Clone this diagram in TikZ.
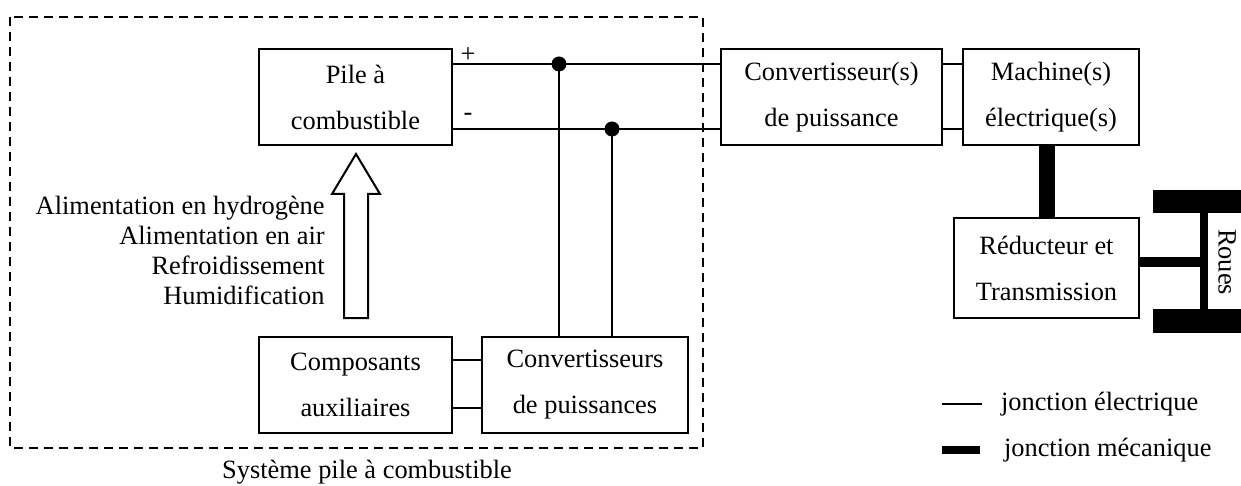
\documentclass[tikz,border=0pt]{standalone}
\usepackage{fontspec}
\setmainfont{Liberation Serif}
\usetikzlibrary{calc}

\tikzset{
  bloc/.style={draw, line width=1pt, inner sep=0pt, outer sep=0pt, align=center,
    minimum height=48pt, font=\fontsize{13.2}{23}\selectfont},
  elec/.style={line width=1pt},
  meca/.style={line width=8pt},
  jonc/.style={circle, fill, inner sep=0pt, minimum size=7.5pt},
  lbl/.style={inner sep=0pt, font=\fontsize{13.2}{15}\selectfont}
}

\begin{document}
\begin{tikzpicture}[x=0.5pt, y=-0.5pt]
  \useasboundingbox (0,0) rectangle (1241,486);
  % systeme pile a combustible
  \draw[line width=1pt, dash pattern=on 4.5pt off 3pt] (10,17) rectangle (703,448);
  \node[lbl] (systeme) at (367,472) {Système pile à combustible};

  \node[bloc, minimum width=96.5pt] (pile) at (355.5,97) {Pile à\\combustible};
  \node[bloc, minimum width=96.5pt] (compo) at (355.5,385) {Composants\\auxiliaires};
  \node[bloc, minimum width=103pt] (convA) at (585,385) {Convertisseurs\\de puissances};
  \node[bloc, minimum width=110.5pt] (convP) at (831.5,97) {Convertisseur(s)\\de puissance};
  \node[bloc, minimum width=88pt] (machine) at (1051,97) {Machine(s)\\électrique(s)};
  \node[bloc, minimum width=92.5pt, minimum height=50pt] (reduct) at (1046.5,268) {Réducteur et\\Transmission};

  \node[lbl] (plus) at (468,55) {+};
  \node[lbl] (moins) at (468,117) {-};
  \node[jonc] (dplus) at (559,64) {};
  \node[jonc] (dmoins) at (612,129) {};

  % jonctions electriques
  \draw[elec] ([yshift=-7.5pt]pile.north east) -- ([yshift=-7.5pt]convP.north west);
  \draw[elec] ([yshift=8pt]pile.south east) -- ([yshift=8pt]convP.south west);
  \draw[elec] (dplus.center) -- (dplus |- convA.north);
  \draw[elec] (dmoins.center) -- (dmoins |- convA.north);
  \draw[elec] ([yshift=-7.5pt]convP.north east) -- ([yshift=-7.5pt]machine.north west);
  \draw[elec] ([yshift=8pt]convP.south east) -- ([yshift=8pt]machine.south west);
  \draw[elec] ([yshift=-11.5pt]compo.north east) -- ([yshift=-11.5pt]convA.north west);
  \draw[elec] ([yshift=12.5pt]compo.south east) -- ([yshift=12.5pt]convA.south west);

  % alimentation
  \draw[line width=1pt] (344,318) -- (344,194) -- (332,194) -- (356,154) -- (380,194)
    -- (368,194) -- (368,318) -- cycle;
  \node[lbl, align=right, anchor=east] (alim) at (325,250)
    {Alimentation en hydrogène\\Alimentation en air\\Refroidissement\\Humidification};

  % jonctions mecaniques et roues
  \draw[meca] (reduct.north |- machine.south) -- (reduct.north);
  \fill (1153,190) rectangle (1241,213);
  \fill (1153,309) rectangle (1241,333);
  \fill (1200,213) rectangle (1208,309);
  \coordinate (axe) at (1200,262);
  \draw[line width=5pt] (reduct.east |- axe) -- (axe);
  \node[lbl, rotate=-90] (roues) at (1227,262) {Roues};

  % legende
  \coordinate (le1) at (942,404);
  \coordinate (le2) at (982,404);
  \coordinate (lm1) at (942,450);
  \coordinate (lm2) at (980,450);
  \draw[elec] (le1) -- (le2) node[lbl, anchor=west, xshift=9pt] (jelec) {jonction électrique};
  \draw[line width=4pt] (lm1) -- (lm2) node[lbl, anchor=west, xshift=10pt] (jmeca) {jonction mécanique};
\end{tikzpicture}
\end{document}
